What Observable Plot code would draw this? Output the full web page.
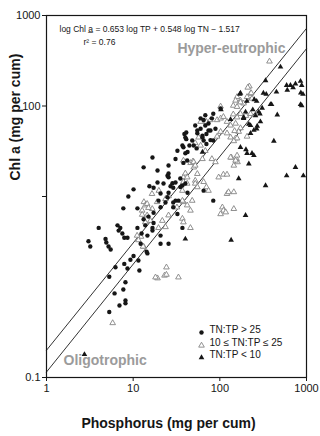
<!DOCTYPE html>
<html><head><meta charset="utf-8">
<script src="https://cdn.jsdelivr.net/npm/d3@7"></script>
<script src="https://cdn.jsdelivr.net/npm/@observablehq/plot@0.6"></script>
<style>
html,body{margin:0;padding:0;background:#fff;}
#chart svg{display:block;}
</style></head><body><div id="chart"></div>
<script>
// [TP (mg per cum), Chl a (mg per cum)]
const highRatio = [[3.05,3.2],[3.2,2.8],[4.0,4.5],[4.8,3.4],[4.9,3.1],[5.2,2.8],[5.5,2.6],[6.6,4.8],[7.1,4.5],[6.8,4.2],[7.5,3.9],[7.9,3.5],[8.6,3.5],[7.7,7.4],[8.8,10],[10.1,12],[11.2,7.4],[13.2,21],[16.7,27],[15.4,13],[17.2,12.5],[19.1,14.3],[20.7,10.8],[19.6,9.0],[22.4,13.9],[24.9,17],[25.6,16.3],[27,13],[29,12.5],[24.9,9.8],[30.8,9.0],[35,15.8],[37,13.2],[29,7.6],[32.4,6.4],[40,13.9],[42.4,11],[39,49],[41,43],[44.6,36.6],[38,35],[55,50],[60,56],[63,47],[68,61],[74,64],[84,82],[102,94],[84,9],[65,11.6],[37,4.5],[20.7,3.0],[14.6,2.35],[20.7,3.7],[16.7,4.5],[12.5,3.9],[13.2,5.6],[15,6.0],[17.2,5.1],[16.7,4.2],[14.6,3.7],[12.2,3.0],[14.3,2.45],[10.1,2.2],[11.5,1.96],[9.3,2.0],[7.9,1.8],[8.6,1.6],[11.8,1.52],[6.25,1.65],[5.3,1.3],[8.15,1.13],[7.7,0.94],[6.1,0.85],[8.15,0.71],[8.15,0.66],[6.95,0.625],[5.3,0.53],[19.1,19.4],[25.6,18],[28.4,14],[30.8,14.3],[25.6,11],[29,8.6],[33.3,9.0],[23.6,8.6],[20.7,7.6],[17.2,6.6],[32.4,32],[37,36.6],[40,45],[42.4,31],[25.6,22],[38,23.5],[30.8,26],[11.2,4.5],[13.8,4.8],[68,79],[60,73],[52,61],[78,53.6],[89,56],[25.6,3.0],[42,25],[35,12.7],[70,38],[84,41.6],[81,73],[65,70],[74,53.6],[70,49],[63,45],[65,41.6],[78,42],[55,53.6],[41,51],[48,41.6],[50,36.6],[54,34],[40,30]];
const midRatio = [[12.3,3.6],[11.5,3.3],[19.6,4.5],[23.6,4.6],[24.2,1.65],[19.1,1.25],[23,1.34],[13.2,2.8],[5.8,0.40],[24.2,1.37],[18.1,1.28],[33.3,1.28],[16.5,10.7],[19.8,11.6],[13.3,8.7],[13.8,8.0],[12.7,7.0],[16.6,7.3],[18.9,8.7],[23.6,9.4],[25.6,10.1],[32,7.6],[38,8.7],[42,8.0],[45.8,7.0],[48,9],[37,11.6],[42,13.9],[38,16.3],[52,15],[55,17.8],[50,21],[46,23.5],[49,24.5],[57,45],[52,39],[60,36.6],[68,32],[63,26],[14.5,6.2],[15.8,5.4],[21.7,5.4],[25.6,6.2],[37,5.7],[45.8,4.5],[13.8,5.2],[219,165],[226,137],[206,126],[235,121],[158,126],[152,115],[173,115],[188,107],[143,101],[158,98],[102,99],[60,67],[70,67],[78,70],[93,70],[102,73],[110,76],[121,67],[133,61],[152,64],[173,57],[121,50],[133,45],[152,44],[93,46],[102,52],[173,110],[173,82],[226,82],[200,78],[158,75],[143,81],[206,46],[158,44],[145,41],[165,52],[148,53],[136,27],[156,26],[160,24],[374,311],[230,139],[38,25],[50,24],[52,22],[40,18],[42,16.3],[38,14.5],[52,13.9],[55,12.7],[65,14.5],[70,12.7],[74,11.6],[81,26],[89,24],[97,16.3],[110,17.5],[121,17.5],[121,10.7],[126,11.2],[145,11.2],[107,7.6],[110,7.0],[117,6.7],[102,6.4],[145,7.3],[37,9],[38,5.2],[133,27],[145,22],[158,28.4],[152,25],[210,160],[14.5,8.3],[15,7.5],[12.7,6.3],[11.1,3.7],[13,2.8]];
const lowRatio = [[501,270],[337,191],[173,139],[250,118],[318,139],[450,143],[395,104],[600,150],[653,169],[746,176],[853,188],[880,169],[860,140],[910,135],[853,104],[880,101],[205,113],[240,91],[308,95],[290,82],[460,80],[198,86],[188,73],[216,63],[258,78.5],[266,56],[226,50],[420,41],[173,35],[200,33],[216,23],[746,21],[590,169],[700,160],[170,135],[103,91],[133,71],[188,75],[247,54],[281,86],[343,135],[384,104],[294,67],[226,61],[266,113],[63,31],[235,30],[165,15.8],[590,17],[920,17],[337,13.2],[198,6.2],[135,3.3],[40,3.4],[206,30],[247,28.4],[270,60],[2.74,0.18]];

const legendLabels = ["TN:TP > 25", "10 \u2264 TN:TP \u2264 25", "TN:TP < 10"];
const xTicks = [1, 10, 100, 1000];
const xTickLabels = ["1", "10", "100", "1000"];
const yTicks = [0.1, 10, 100, 1000];
const yTickLabels = ["0.1", "", "100", "1000"];
const upperLine = [[1, 0.2], [1000, 720]];
const lowerLine = [[1, 0.115], [1000, 430]];
const equationLines = ["log Chl a\u0332 = 0.653 log TP + 0.548 log TN \u2212 1.517", "r\u00b2 = 0.76"];
const zoneLabels = ["Hyper-eutrophic", "Oligotrophic"];
const xTitle = "Phosphorus (mg per cum)";
const yTitle = "Chl a (mg per cum)";

const rows = arr => arr.map(([tp, chl]) => ({tp, chl}));
const xLab = new Map(xTicks.map((t, i) => [t, xTickLabels[i]]));
const yLab = new Map(yTicks.map((t, i) => [t, yTickLabels[i]]));
const font = "'Liberation Sans', Arial, Helvetica, sans-serif";
const ink = "#161616";
const grayText = "#9b9b9b";

const styles = [
  {symbol: "circle", r: 2.2, fill: ink, stroke: "none", strokeWidth: 0},
  {symbol: "triangle", r: 2.1, fill: "white", stroke: "#858585", strokeWidth: 0.9},
  {symbol: "triangle", r: 2.1, fill: ink, stroke: "none", strokeWidth: 0}
];
const legendDy = [-45, -32, -20];

const legendMarks = legendLabels.flatMap((lab, i) => [
  Plot.dot([lab], {frameAnchor: "bottom-left", dx: 155, dy: legendDy[i], ...styles[i]}),
  Plot.text([lab], {text: d => d, frameAnchor: "bottom-left", dx: 163, dy: legendDy[i], textAnchor: "start", fontSize: 10, fill: ink})
]);

const chart = Plot.plot({
  width: 320, height: 436,
  marginLeft: 46, marginRight: 14, marginTop: 15, marginBottom: 59,
  x: {type: "log", domain: [1, 1000]},
  y: {type: "log", domain: [0.1, 1000]},
  style: {fontFamily: font, fontSize: "11px", color: ink, background: "white"},
  marks: [
    Plot.line(upperLine, {x: d => d[0], y: d => d[1], stroke: "#333", strokeWidth: 1}),
    Plot.line(lowerLine, {x: d => d[0], y: d => d[1], stroke: "#333", strokeWidth: 1}),
    Plot.dot(rows(midRatio), {x: "tp", y: "chl", ...styles[1]}),
    Plot.dot(rows(lowRatio), {x: "tp", y: "chl", ...styles[2]}),
    Plot.dot(rows(highRatio), {x: "tp", y: "chl", ...styles[0]}),
    Plot.frame({stroke: ink, strokeWidth: 1.2}),
    Plot.axisX({ticks: xTicks, tickFormat: d => xLab.get(d) ?? "", tickSize: 4, tickPadding: 3, fontSize: 11, label: null}),
    Plot.axisY({ticks: yTicks, tickFormat: d => yLab.get(d) ?? "", tickSize: 4, tickPadding: 2, fontSize: 11, label: null}),
    Plot.text([equationLines[0]], {text: d => d, frameAnchor: "top-left", dx: 13, dy: 10, textAnchor: "start", fontSize: 8.5, fill: ink}),
    Plot.text([equationLines[1]], {text: d => d, frameAnchor: "top-left", dx: 37, dy: 23, textAnchor: "start", fontSize: 8.5, fill: ink}),
    Plot.text([zoneLabels[0]], {text: d => d, frameAnchor: "top-right", dx: -21, dy: 28, textAnchor: "end", fontSize: 14, fontWeight: "bold", fill: grayText}),
    Plot.text([zoneLabels[1]], {text: d => d, frameAnchor: "bottom-left", dx: 17, dy: -13, textAnchor: "start", fontSize: 14, fontWeight: "bold", fill: grayText}),
    ...legendMarks,
    Plot.text([xTitle], {text: d => d, frameAnchor: "bottom", dx: -8, dy: 50, fontSize: 14, fontWeight: "bold", fill: ink}),
    Plot.text([yTitle], {text: d => d, frameAnchor: "left", dx: -31, dy: -16, rotate: -90, fontSize: 14, fontWeight: "bold", fill: ink})
  ]
});
document.getElementById("chart").append(chart);
</script></body></html>
